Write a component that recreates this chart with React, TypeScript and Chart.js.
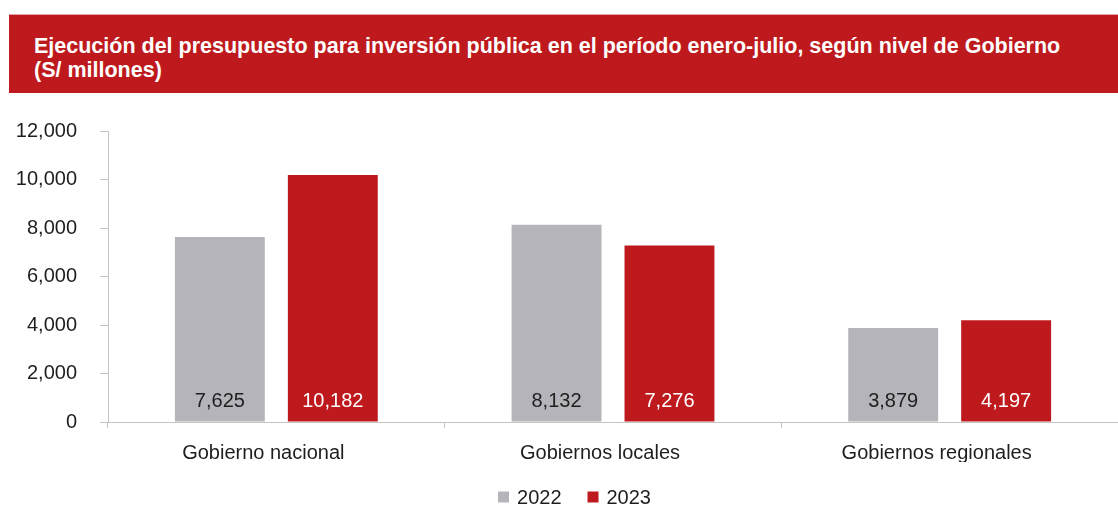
import React, { useEffect, useRef } from 'react';
import { Chart, registerables } from 'chart.js';

Chart.register(...registerables);

const titleLines = [
  'Ejecución del presupuesto para inversión pública en el período enero-julio, según nivel de Gobierno',
  '(S/ millones)',
];
const categories = ['Gobierno nacional', 'Gobiernos locales', 'Gobiernos regionales'];
const seriesNames = ['2022', '2023'];
const values2022 = [7625, 8132, 3879];
const values2023 = [10182, 7276, 4197];
const yMin = 0;
const yMax = 12000;
const yStep = 2000;

const RED = '#BE1A1D';
const GRAY = '#B5B4BA';
const AXIS = '#C4C4C4';
const TEXT = '#1E1E1E';
const FONT = '"Liberation Sans", Arial, Helvetica, sans-serif';

const fmt = (v: number) => v.toLocaleString('en-US');

const barLabelPlugin = {
  id: 'barLabels',
  afterDatasetsDraw(chart: any) {
    const ctx = chart.ctx;
    ctx.save();
    ctx.font = `20px ${FONT}`;
    ctx.textAlign = 'center';
    ctx.textBaseline = 'alphabetic';
    chart.data.datasets.forEach((ds: any, di: number) => {
      const meta = chart.getDatasetMeta(di);
      meta.data.forEach((bar: any, i: number) => {
        ctx.fillStyle = di === 0 ? TEXT : '#FFFFFF';
        ctx.fillText(fmt(ds.data[i]), bar.x, bar.base - 15);
      });
    });
    ctx.restore();
  },
};

const legendPlugin = {
  id: 'customLegend',
  afterDraw(chart: any) {
    const ctx = chart.ctx;
    ctx.save();
    ctx.font = `20px ${FONT}`;
    ctx.textBaseline = 'middle';
    ctx.textAlign = 'left';
    const box = 11;
    const gap = 8;
    const itemGap = 26;
    const items = chart.data.datasets.map((ds: any) => ({
      text: ds.label,
      color: ds.backgroundColor,
      w: box + gap + ctx.measureText(ds.label).width,
    }));
    const total = items.reduce((s: number, it: any) => s + it.w, 0) + itemGap * (items.length - 1);
    let x = 574.5 - total / 2;
    const cy = 497;
    items.forEach((it: any) => {
      ctx.fillStyle = it.color;
      ctx.fillRect(x, cy - box / 2, box, box);
      ctx.fillStyle = TEXT;
      ctx.fillText(it.text, x + box + gap, cy + 1);
      x += it.w + itemGap;
    });
    ctx.restore();
  },
};

export default function App() {
  const ref = useRef<HTMLCanvasElement | null>(null);

  useEffect(() => {
    if (!ref.current) return;
    Chart.defaults.font.family = FONT;
    const chart = new Chart(ref.current, {
      type: 'bar',
      data: {
        labels: categories,
        datasets: [
          {
            label: seriesNames[0],
            data: values2022,
            backgroundColor: GRAY,
            categoryPercentage: 0.671,
            barPercentage: 0.796,
          },
          {
            label: seriesNames[1],
            data: values2023,
            backgroundColor: RED,
            categoryPercentage: 0.671,
            barPercentage: 0.796,
          },
        ],
      },
      options: {
        responsive: false,
        animation: false,
        layout: { padding: { left: 0, top: 131, right: 0, bottom: 44 } },
        plugins: {
          legend: { display: false },
          title: { display: false },
          tooltip: { enabled: false },
        },
        scales: {
          x: {
            grid: {
              drawOnChartArea: false,
              drawTicks: true,
              tickLength: 6,
              color: AXIS,
              offset: true,
            },
            border: { color: AXIS, width: 1 },
            ticks: {
              color: TEXT,
              font: { size: 20 },
              padding: 13,
              labelOffset: -13,
              maxRotation: 0,
              autoSkip: false,
            },
            afterFit: (scale: any) => {
              scale.height = 40;
            },
          },
          y: {
            min: yMin,
            max: yMax,
            grid: {
              drawOnChartArea: false,
              drawTicks: true,
              tickLength: 8,
              color: AXIS,
            },
            border: { color: AXIS, width: 1 },
            ticks: {
              stepSize: yStep,
              color: TEXT,
              font: { size: 20 },
              padding: 23,
              callback: (v: any) => fmt(Number(v)),
            },
            afterFit: (scale: any) => {
              scale.width = 108;
            },
          },
        },
      },
      plugins: [barLabelPlugin, legendPlugin],
    });
    return () => chart.destroy();
  }, []);

  return (
    <div style={{ position: 'absolute', left: 0, top: 0, width: 1118, height: 506, background: '#fff', overflow: 'hidden' }}>
      <canvas ref={ref} width={1118} height={506} style={{ position: 'absolute', left: 0, top: 0, width: 1118, height: 506 }} />
      <div
        style={{
          position: 'absolute',
          left: 9,
          top: 14,
          width: 1109,
          height: 79,
          boxSizing: 'border-box',
          background: RED,
          borderTop: '1px solid #E4A3A4',
          color: '#FFFFFF',
          fontFamily: FONT,
          fontWeight: 'bold',
          fontSize: 21.5,
          lineHeight: '24px',
          paddingLeft: 25,
          paddingTop: 19,
          whiteSpace: 'nowrap',
        }}
      >
        {titleLines.map((t, i) => (
          <div key={i}>{t}</div>
        ))}
      </div>
    </div>
  );
}
